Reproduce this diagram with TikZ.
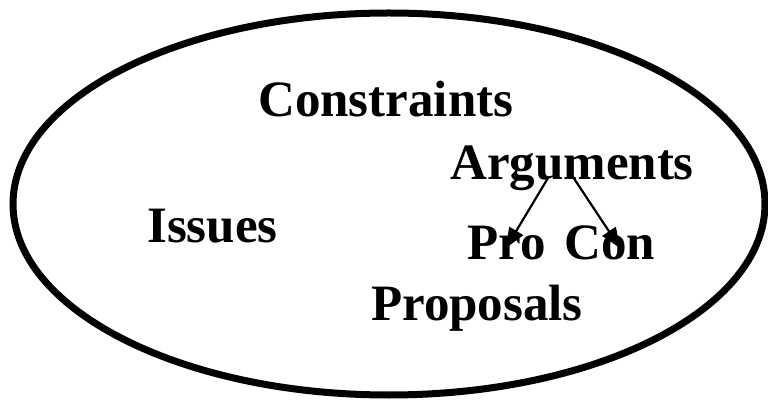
\documentclass[tikz,border=0pt]{standalone}
\usepackage{fontspec}
\setmainfont{Liberation Serif}
\usetikzlibrary{arrows.meta}
\begin{document}
\begin{tikzpicture}[x=1pt,y=1pt,
  lbl/.style={font=\fontsize{51}{55}\selectfont\bfseries, inner sep=0pt, anchor=base west},
  arr/.style={line width=2.2pt, -{Triangle[length=20pt,width=16pt]}}]
\useasboundingbox (0,0) rectangle (768,399);
\draw[line width=7pt] (389,195) ellipse [x radius=376, y radius=191];
\node[lbl] (cons) at (258,282) {Constraints};
\node[lbl] (args) at (450,219) {Arguments};
\node[lbl] (iss) at (147,156) {Issues};
\node[lbl] (pro) at (467,139) {Pro};
\node[lbl] (con) at (564,139) {Con};
\node[lbl] (prop) at (371,78) {Proposals};
\coordinate (a1) at (548,221);
\coordinate (a2) at (573,222);
\coordinate (p1) at (506,151);
\coordinate (c1) at (620,151);
\draw[arr] (a1) -- (p1);
\draw[arr] (a2) -- (c1);
\end{tikzpicture}
\end{document}
